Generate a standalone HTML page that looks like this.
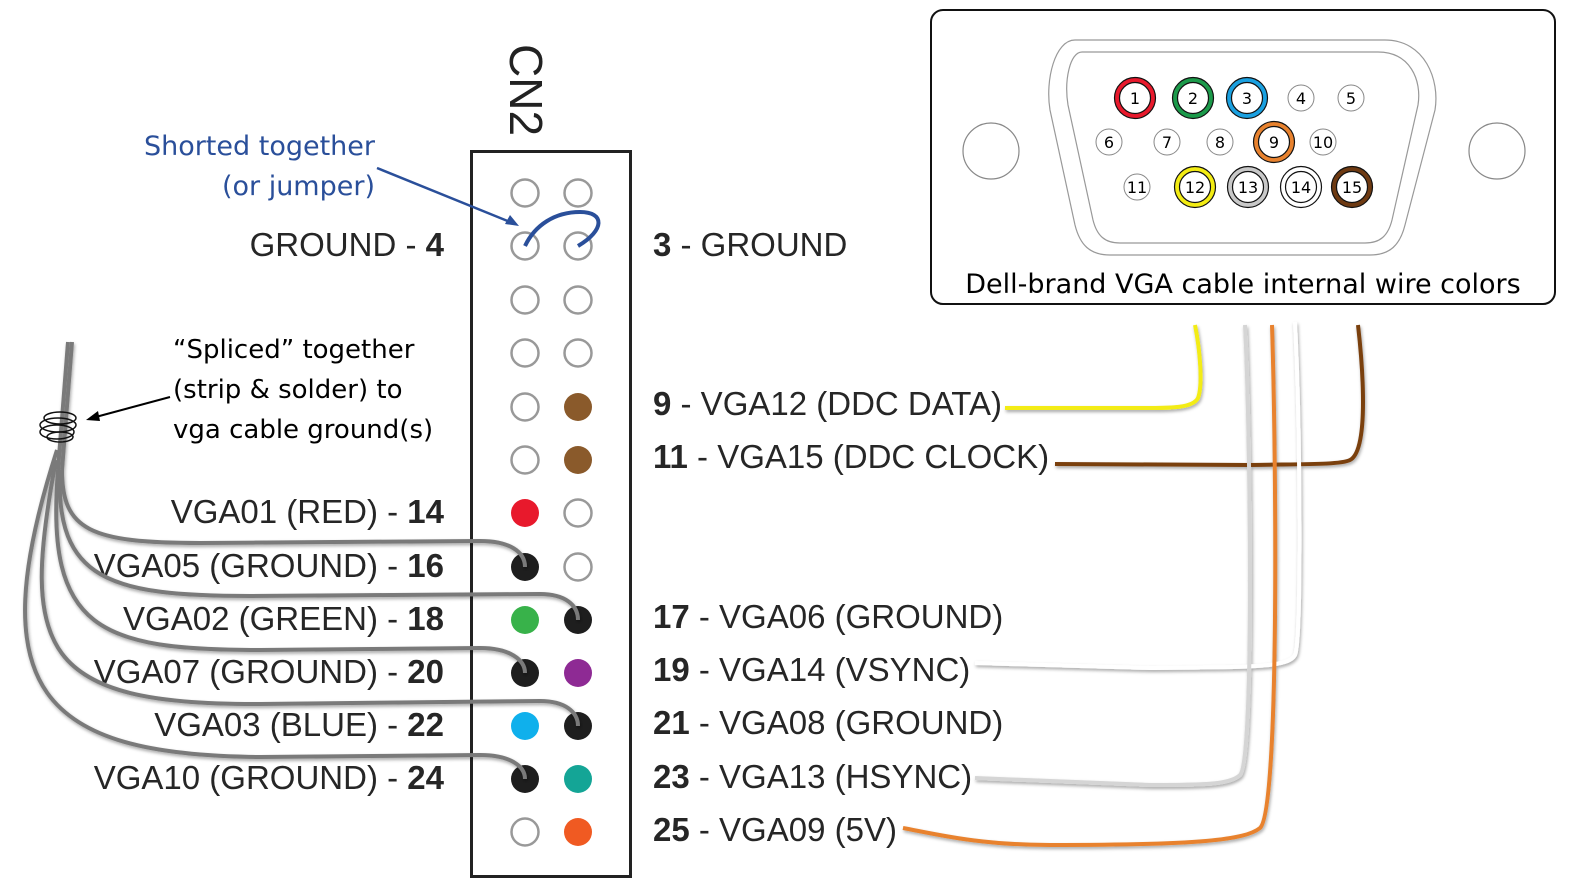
<!DOCTYPE html>
<html><head><meta charset="utf-8"><style>
html,body{margin:0;padding:0;background:#fff}
svg{display:block}
.l{font-family:"Liberation Sans",Arial,sans-serif;font-size:33px;fill:#262626}
.c{font-family:"DejaVu Sans",sans-serif;fill:#000}
</style></head><body>
<svg width="1574" height="892" viewBox="0 0 1574 892" xmlns="http://www.w3.org/2000/svg">
<defs><filter id="sh" x="-5%" y="-5%" width="110%" height="110%"><feDropShadow dx="1" dy="2" stdDeviation="1.5" flood-color="#000" flood-opacity="0.35"/></filter></defs>
<!-- CN2 -->
<text x="0" y="0" transform="translate(510,44) rotate(90)" style="font-family:'Liberation Sans',Arial,sans-serif;font-size:46px;fill:#222">CN2</text>
<rect x="471.5" y="151.5" width="159" height="725" fill="none" stroke="#222" stroke-width="3"/>
<g stroke="#999" stroke-width="2.5" fill="none">
<circle cx="525" cy="193" r="13.5"/><circle cx="578" cy="193" r="13.5"/>
<circle cx="525" cy="246" r="13.5"/><circle cx="578" cy="246" r="13.5"/>
<circle cx="525" cy="300" r="13.5"/><circle cx="578" cy="300" r="13.5"/>
<circle cx="525" cy="353" r="13.5"/><circle cx="578" cy="353" r="13.5"/>
<circle cx="525" cy="407" r="13.5"/><circle cx="525" cy="460" r="13.5"/>
<circle cx="578" cy="513" r="13.5"/><circle cx="578" cy="567" r="13.5"/>
<circle cx="525" cy="832" r="13.5"/>
</g>
<g>
<circle cx="578" cy="407" r="14" fill="#8a5a2b"/><circle cx="578" cy="460" r="14" fill="#8a5a2b"/>
<circle cx="525" cy="513" r="14" fill="#e8192c"/>
<circle cx="525" cy="567" r="14" fill="#1e1e1e"/>
<circle cx="525" cy="620" r="14" fill="#38b24a"/><circle cx="578" cy="620" r="14" fill="#1e1e1e"/>
<circle cx="525" cy="673" r="14" fill="#1e1e1e"/><circle cx="578" cy="673" r="14" fill="#8e2a94"/>
<circle cx="525" cy="726" r="14" fill="#0fb0ec"/><circle cx="578" cy="726" r="14" fill="#1e1e1e"/>
<circle cx="525" cy="779" r="14" fill="#1e1e1e"/><circle cx="578" cy="779" r="14" fill="#14a596"/>
<circle cx="578" cy="832" r="14" fill="#f05a22"/>
</g>
<!-- jumper -->
<path d="M525,246 C535,225 555,212 580,212 C605,212 605,230 578,246" fill="none" stroke="#2a4f9a" stroke-width="4"/>
<path d="M377,168 L515,224" stroke="#2a4f9a" stroke-width="2.5"/>
<path d="M519,226 L505,224 L510,215 Z" fill="#2a4f9a"/>
<text x="375" y="155" text-anchor="end" font-family="'DejaVu Sans',sans-serif" font-size="27" fill="#2a4f9a">Shorted together</text>
<text x="375" y="195" text-anchor="end" font-family="'DejaVu Sans',sans-serif" font-size="27" fill="#2a4f9a">(or jumper)</text>
<!-- labels -->
<g class="l" text-anchor="end">
<text x="444" y="256">GROUND - <tspan font-weight="bold">4</tspan></text>
<text x="444" y="523">VGA01 (RED) - <tspan font-weight="bold">14</tspan></text>
<text x="444" y="577">VGA05 (GROUND) - <tspan font-weight="bold">16</tspan></text>
<text x="444" y="630">VGA02 (GREEN) - <tspan font-weight="bold">18</tspan></text>
<text x="444" y="683">VGA07 (GROUND) - <tspan font-weight="bold">20</tspan></text>
<text x="444" y="736">VGA03 (BLUE) - <tspan font-weight="bold">22</tspan></text>
<text x="444" y="789">VGA10 (GROUND) - <tspan font-weight="bold">24</tspan></text>
</g>
<g class="l">
<text x="653" y="256"><tspan font-weight="bold">3</tspan> - GROUND</text>
<text x="653" y="415"><tspan font-weight="bold">9</tspan> - VGA12 (DDC DATA)</text>
<text x="653" y="468"><tspan font-weight="bold">11</tspan> - VGA15 (DDC CLOCK)</text>
<text x="653" y="628"><tspan font-weight="bold">17</tspan> - VGA06 (GROUND)</text>
<text x="653" y="681"><tspan font-weight="bold">19</tspan> - VGA14 (VSYNC)</text>
<text x="653" y="734"><tspan font-weight="bold">21</tspan> - VGA08 (GROUND)</text>
<text x="653" y="788"><tspan font-weight="bold">23</tspan> - VGA13 (HSYNC)</text>
<text x="653" y="841"><tspan font-weight="bold">25</tspan> - VGA09 (5V)</text>
</g>
<!-- splice text -->
<g font-family="'DejaVu Sans',sans-serif" font-size="26" fill="#000">
<text x="173" y="358">“Spliced” together</text>
<text x="173" y="398">(strip &amp; solder) to</text>
<text x="173" y="438">vga cable ground(s)</text>
</g>
<path d="M170,397 L92,418" stroke="#000" stroke-width="2"/>
<path d="M86,420 L98,411 L100,421 Z" fill="#000"/>
<!-- ground wires -->
<g fill="none" stroke="#7a7a7a" stroke-width="4" filter="url(#sh)">
<path d="M72,342 L62,470"/>
<path d="M68,342 L58,470"/>
<path d="M62,470 C62,530 90,543 200,543 L480,541 C510,541 525,552 525,567"/>
<path d="M60,470 C55,580 110,596 250,596 L540,594 C565,594 578,605 578,620"/>
<path d="M58,470 C45,630 100,650 260,650 L480,648 C510,648 525,660 525,673"/>
<path d="M56,460 C20,650 40,705 260,704 L540,701 C565,701 578,712 578,726"/>
<path d="M57,450 C-20,690 40,755 260,757 L480,755 C510,755 525,766 525,779"/>
</g>
<!-- coil -->
<g fill="none" stroke="#111" stroke-width="1.5">
<ellipse cx="60" cy="418" rx="16" ry="6"/><ellipse cx="58" cy="425" rx="18" ry="7"/><ellipse cx="57" cy="432" rx="17" ry="7"/><ellipse cx="60" cy="437" rx="13" ry="5"/>
</g>
<!-- right wires -->
<g fill="none" stroke-width="4" filter="url(#sh)">
<path d="M1195,325 C1200,350 1203,385 1198,398 C1193,408 1170,408 1150,408 L1005,408" stroke="#f3ec13"/>
<path d="M1358,325 C1362,360 1370,450 1350,460 C1340,465 1300,464 1250,465 L1055,464" stroke="#7a3f10"/>
<path d="M1295,322 C1300,420 1302,640 1295,655 C1288,668 1250,667 1150,668 L975,663" stroke="#fff"/>
<path d="M1245,325 C1250,420 1255,760 1240,775 C1230,785 1200,785 1150,785 L975,778" stroke="#d5d5d5"/>
<path d="M1272,325 C1276,450 1280,810 1260,828 C1245,840 1200,845 1050,845 C980,845 940,835 903,828" stroke="#e8822e"/>
</g>
<!-- VGA box -->
<rect x="931" y="10" width="624" height="294" rx="12" fill="#fff" stroke="#111" stroke-width="2"/>
<circle cx="991" cy="151" r="28" fill="none" stroke="#888" stroke-width="1.2"/>
<circle cx="1497" cy="151" r="28" fill="none" stroke="#888" stroke-width="1.2"/>
<path d="M1075,40 L1385,40 C1425,40 1440,80 1435,110 L1405,225 C1400,245 1390,255 1370,255 L1110,255 C1090,255 1080,245 1075,225 L1050,110 C1045,80 1055,40 1075,40 Z" fill="none" stroke="#999" stroke-width="1.2"/>
<path d="M1082,52 L1378,52 C1410,52 1422,80 1418,105 L1392,220 C1388,236 1380,243 1365,243 L1120,243 C1105,243 1097,236 1093,220 L1068,105 C1064,80 1070,52 1082,52 Z" fill="none" stroke="#999" stroke-width="1.2"/>
<g fill="#fff" stroke-width="4.5">
<circle cx="1135" cy="98" r="18" stroke="#e8192c"/><circle cx="1193" cy="98" r="18" stroke="#1b9a4a"/><circle cx="1247" cy="98" r="18" stroke="#1aa0e0"/>
<circle cx="1274" cy="142" r="18" stroke="#e8822e"/>
<circle cx="1195" cy="187" r="18" stroke="#f3ec13"/><circle cx="1248" cy="187" r="18" stroke="#c8c8c8"/><circle cx="1301" cy="187" r="18" stroke="#fff"/><circle cx="1352" cy="187" r="18" stroke="#6e3a12"/>
</g>
<g fill="none" stroke="#111" stroke-width="1.2">
<circle cx="1135" cy="98" r="20.5"/><circle cx="1135" cy="98" r="15.5"/>
<circle cx="1193" cy="98" r="20.5"/><circle cx="1193" cy="98" r="15.5"/>
<circle cx="1247" cy="98" r="20.5"/><circle cx="1247" cy="98" r="15.5"/>
<circle cx="1274" cy="142" r="20.5"/><circle cx="1274" cy="142" r="15.5"/>
<circle cx="1195" cy="187" r="20.5"/><circle cx="1195" cy="187" r="15.5"/>
<circle cx="1248" cy="187" r="20.5"/><circle cx="1248" cy="187" r="15.5"/>
<circle cx="1301" cy="187" r="20.5"/><circle cx="1301" cy="187" r="15.5"/>
<circle cx="1352" cy="187" r="20.5"/><circle cx="1352" cy="187" r="15.5"/>
</g>
<g fill="#fff" stroke="#888" stroke-width="1">
<circle cx="1301" cy="98" r="13"/><circle cx="1351" cy="98" r="13"/>
<circle cx="1109" cy="142" r="13"/><circle cx="1167" cy="142" r="13"/><circle cx="1220" cy="142" r="13"/><circle cx="1323" cy="142" r="13"/>
<circle cx="1137" cy="187" r="13"/>
</g>
<g class="c" font-size="16" text-anchor="middle">
<text x="1135" y="104">1</text><text x="1193" y="104">2</text><text x="1247" y="104">3</text><text x="1301" y="104">4</text><text x="1351" y="104">5</text>
<text x="1109" y="148">6</text><text x="1167" y="148">7</text><text x="1220" y="148">8</text><text x="1274" y="148">9</text><text x="1323" y="148">10</text>
<text x="1137" y="193">11</text><text x="1195" y="193">12</text><text x="1248" y="193">13</text><text x="1301" y="193">14</text><text x="1352" y="193">15</text>
</g>
<text x="1243" y="293" text-anchor="middle" font-family="'DejaVu Sans',sans-serif" font-size="27" fill="#000">Dell-brand VGA cable internal wire colors</text>
</svg>
</body></html>
